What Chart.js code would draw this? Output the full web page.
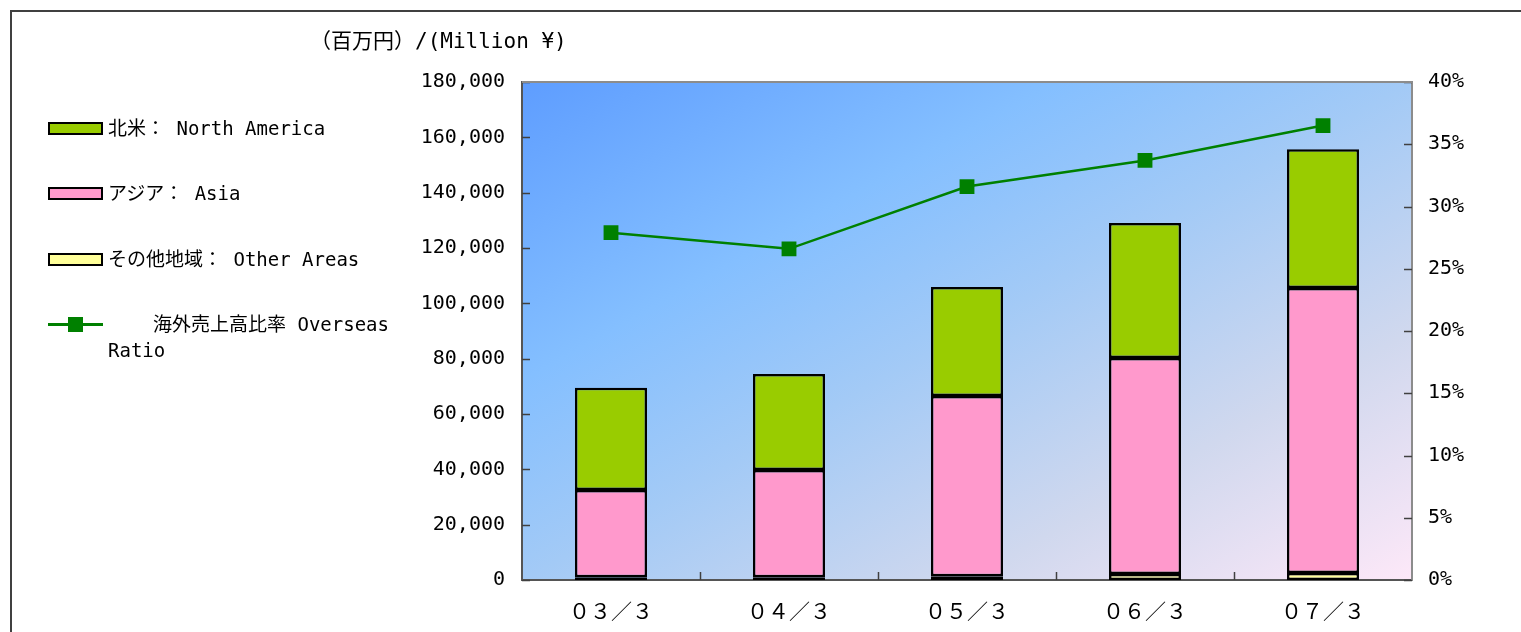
<!DOCTYPE html>
<html>
<head>
<meta charset="utf-8">
<script src="https://cdn.jsdelivr.net/npm/chart.js@4"></script>
<style>
  body { margin: 0; background: #fff; overflow: hidden; }
  #wrap { position: relative; width: 1521px; height: 632px; }
  #frame { position: absolute; left: 10px; top: 10px; width: 1600px; height: 700px; border: 2px solid #404040; box-sizing: border-box; }
  canvas { position: absolute; left: 0; top: 0; }
  .txt { position: absolute; font-family: 'DejaVu Sans Mono', 'Noto Sans CJK JP', monospace; font-size: 19px; color: #000; white-space: nowrap; line-height: 22px; }
  .sw { position: absolute; width: 51px; height: 9px; border: 2px solid #000; }
</style>
</head>
<body>
<div id="wrap">
  <div id="frame"></div>
  <canvas id="chart" width="1521" height="632"></canvas>
  <div class="txt" style="left:310px; top:30px; font-size:21px;">（百万円）/(Million ¥)</div>

  <div class="sw" style="left:48px; top:122px; background:#99CC00;"></div>
  <div class="txt" style="left:108px; top:117px;">北米： North America</div>

  <div class="sw" style="left:48px; top:187px; background:#FF99CC;"></div>
  <div class="txt" style="left:108px; top:182px;">アジア： Asia</div>

  <div class="sw" style="left:48px; top:253px; background:#FFFF99;"></div>
  <div class="txt" style="left:108px; top:248px;">その他地域： Other Areas</div>

  <div style="position:absolute; left:48px; top:323px; width:55px; height:3px; background:#008000;"></div>
  <div style="position:absolute; left:68px; top:317px; width:15px; height:15px; background:#008000;"></div>
  <div class="txt" style="left:153px; top:313px;">海外売上高比率 Overseas</div>
  <div class="txt" style="left:108px; top:339px;">Ratio</div>
</div>
<script>
const categories = ['０３／３', '０４／３', '０５／３', '０６／３', '０７／３']
const otherAreas = [1000, 1000, 1400, 2200, 2500]
const asia = [31500, 38800, 65100, 78000, 103000]
const northAmerica = [37000, 34700, 39400, 48800, 50200]
const overseasRatio = [27.9, 26.6, 31.6, 33.7, 36.5]
const leftTicks = [0, 20000, 40000, 60000, 80000, 100000, 120000, 140000, 160000, 180000]
const rightTicks = [0, 5, 10, 15, 20, 25, 30, 35, 40]

// plot area background, diagonal gradient like the office chart
const bgPlugin = {
    id: 'bg',
    beforeDraw(chart) {
        const { ctx, chartArea: a } = chart
        ctx.save()
        ctx.translate(a.left, a.top)
        ctx.scale(a.right - a.left, a.bottom - a.top)
        const g = ctx.createLinearGradient(0, 0, 1, 1)
        g.addColorStop(0, '#5E9DFF')
        g.addColorStop(0.3, '#84BFFF')
        g.addColorStop(0.5, '#A3CAF6')
        g.addColorStop(0.75, '#D0D8EE')
        g.addColorStop(1, '#FDE8F8')
        ctx.fillStyle = g
        ctx.fillRect(0, 0, 1, 1)
        ctx.restore()
    },
    afterDraw(chart) {
        // tick marks point inward
        const { ctx, chartArea: a, scales } = chart
        ctx.save()
        ctx.strokeStyle = '#404040'
        ctx.lineWidth = 1.5
        ctx.beginPath()
        for (const v of leftTicks) {
            const y = Math.round(scales.y.getPixelForValue(v)) + 0.5
            ctx.moveTo(a.left, y); ctx.lineTo(a.left + 8, y)
        }
        for (const v of rightTicks) {
            const y = Math.round(scales.y1.getPixelForValue(v)) + 0.5
            ctx.moveTo(a.right - 8, y); ctx.lineTo(a.right, y)
        }
        for (let i = 0; i < categories.length - 1; i++) {
            const x = Math.round((scales.x.getPixelForValue(i) + scales.x.getPixelForValue(i + 1)) / 2) + 0.5
            ctx.moveTo(x, a.bottom - 8); ctx.lineTo(x, a.bottom)
        }
        ctx.stroke()
        // top edge of plot area
        ctx.strokeStyle = '#8c8c8c'
        ctx.lineWidth = 2
        ctx.beginPath()
        ctx.moveTo(a.left, a.top); ctx.lineTo(a.right, a.top)
        ctx.stroke()
        ctx.restore()
    }
}

const barStyle = { borderColor: '#000', borderWidth: 2.5, borderSkipped: false, barPercentage: 0.405, categoryPercentage: 1, order: 1 }

const ctx = document.getElementById('chart').getContext('2d')
const chart = new Chart(ctx, {
    type: 'bar',
    data: {
        labels: categories,
        datasets: [
            {
                type: 'line', label: '海外売上高比率 Overseas Ratio', data: overseasRatio, yAxisID: 'y1',
                borderColor: '#008000', borderWidth: 2.5, pointStyle: 'rect', pointRadius: 10.5,
                pointBackgroundColor: '#008000', pointBorderWidth: 0, tension: 0, order: 0
            },
            { label: 'その他地域： Other Areas', data: otherAreas, backgroundColor: '#FFFF99', ...barStyle },
            { label: 'アジア： Asia', data: asia, backgroundColor: '#FF99CC', ...barStyle },
            { label: '北米： North America', data: northAmerica, backgroundColor: '#99CC00', ...barStyle }
        ]
    },
    options: {
        responsive: false,
        animation: false,
        devicePixelRatio: 1,
        layout: { padding: { top: 82, left: 0, right: 0, bottom: 0 } },
        plugins: { legend: { display: false }, tooltip: { enabled: false } },
        scales: {
            x: {
                stacked: true,
                grid: { display: false },
                border: { color: '#555', width: 2 },
                ticks: { color: '#000', padding: 10, font: { family: 'Noto Sans CJK JP', size: 21 } },
                afterFit: s => { s.height = 52 }
            },
            y: {
                stacked: true, position: 'left', min: 0, max: 180000,
                grid: { display: false },
                border: { color: '#555', width: 2 },
                afterBuildTicks: s => { s.ticks = leftTicks.map(v => ({ value: v })) },
                ticks: {
                    color: '#000', padding: 9, font: { family: 'DejaVu Sans Mono', size: 20 },
                    callback: v => v.toLocaleString('en-US')
                },
                afterFit: s => { s.width = 522 }
            },
            y1: {
                position: 'right', min: 0, max: 40,
                grid: { display: false },
                border: { color: '#8c8c8c', width: 2 },
                afterBuildTicks: s => { s.ticks = rightTicks.map(v => ({ value: v })) },
                ticks: {
                    color: '#000', padding: 8, font: { family: 'DejaVu Sans Mono', size: 20 },
                    callback: v => v + '%'
                },
                afterFit: s => { s.width = 109 }
            }
        }
    },
    plugins: [bgPlugin]
})
</script>
</body>
</html>
